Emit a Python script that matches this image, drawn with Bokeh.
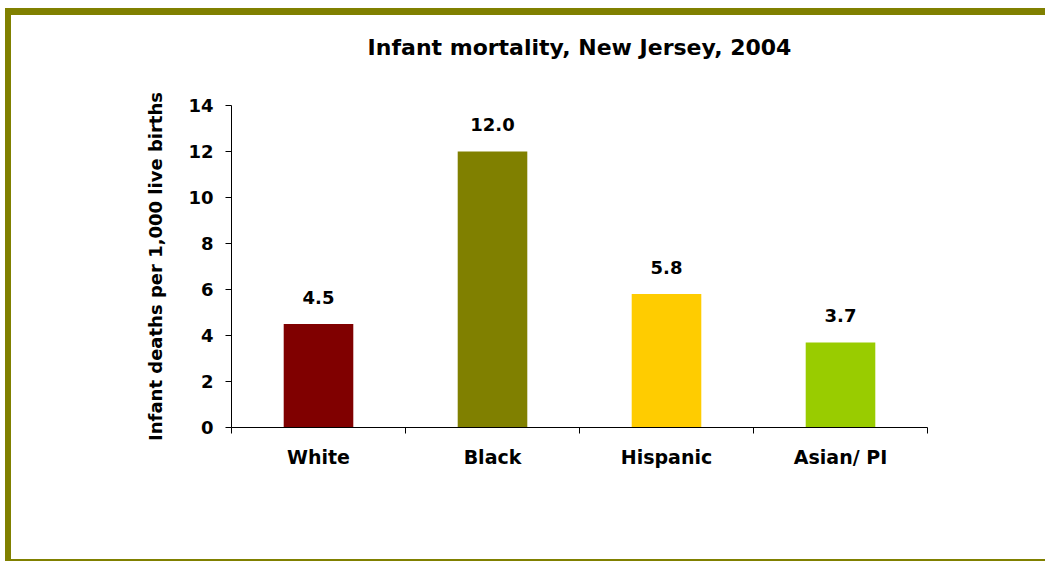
from bokeh.plotting import figure
from bokeh.models import FixedTicker, ColumnDataSource, Range1d, Title
from bokeh.core.properties import value
from bokeh.embed import file_html
from bokeh.resources import INLINE

# ---- data ----
title_text = "Infant mortality, New Jersey, 2004"
y_label = "Infant deaths per 1,000 live births"
categories = ["White", "Black", "Hispanic", "Asian/ PI"]
rates = [4.5, 12.0, 5.8, 3.7]
bar_colors = ["#800000", "#808000", "#FFCC00", "#99CC00"]
y_ticks = [0, 2, 4, 6, 8, 10, 12, 14]

FONT = "DejaVu Sans"
OLIVE = "#808000"

xs = [i + 0.5 for i in range(len(categories))]
bounds = [float(i) for i in range(len(categories) + 1)]
src = ColumnDataSource(dict(
    x=xs, top=rates, color=bar_colors,
    label=[f"{v:.1f}" for v in rates],
))

p = figure(
    width=1034, height=544, output_backend="svg", toolbar_location=None, title=None,
    x_range=Range1d(0, len(categories)), y_range=Range1d(0, y_ticks[-1]),
    min_border_left=220, min_border_right=124, min_border_top=90, min_border_bottom=141,
    background_fill_color="white", border_fill_color="white",
)
p.styles = {"margin-top": "8px", "margin-left": "5px",
            "width": "1040px", "height": "553px",
            "border-top": "7px solid " + OLIVE, "border-left": "6px solid " + OLIVE,
            "border-bottom": "2px solid " + OLIVE}
p.outline_line_color = None
p.xgrid.visible = False
p.ygrid.visible = False

p.vbar(x="x", top="top", bottom=0, width=0.4, color="color", line_color=None, source=src)
p.text(x="x", y="top", text="label", source=src, text_align="center",
       text_baseline="alphabetic", y_offset=-27,
       text_font=value(FONT), text_font_style="bold", text_font_size="18px",
       text_color="black")

# title: a blank spacer next to the frame, then the real title above it
p.add_layout(Title(text=" ", text_font_size="20px", standoff=22), "above")
p.add_layout(Title(text=title_text, align="center", text_font=FONT,
                   text_font_style="bold", text_font_size="22px",
                   text_color="black", standoff=0), "above")

# y axis
ya = p.yaxis[0]
ya.ticker = FixedTicker(ticks=y_ticks)
ya.major_tick_in = 0
ya.major_tick_out = 6
ya.minor_tick_line_color = None
ya.axis_line_color = "black"
ya.major_tick_line_color = "black"
ya.major_label_text_font = FONT
ya.major_label_text_font_style = "bold"
ya.major_label_text_font_size = "18px"
ya.major_label_text_color = "black"
ya.major_label_standoff = 12
ya.axis_label = y_label
ya.axis_label_text_font = FONT
ya.axis_label_text_font_style = "bold"
ya.axis_label_text_font_size = "18px"
ya.axis_label_text_color = "black"
ya.axis_label_standoff = 19

# x axis
xa = p.xaxis[0]
xa.ticker = FixedTicker(ticks=xs, minor_ticks=bounds)
xa.major_tick_in = 0
xa.major_tick_out = 0
xa.major_tick_line_color = None
xa.minor_tick_in = 0
xa.minor_tick_out = 6
xa.minor_tick_line_color = "black"
xa.axis_line_color = "black"
xa.major_label_overrides = {x: c for x, c in zip(xs, categories)}
xa.major_label_text_font = FONT
xa.major_label_text_font_style = "bold"
xa.major_label_text_font_size = "19px"
xa.major_label_text_color = "black"
xa.major_label_standoff = 12

open("out.html", "w").write(file_html(p, INLINE))
